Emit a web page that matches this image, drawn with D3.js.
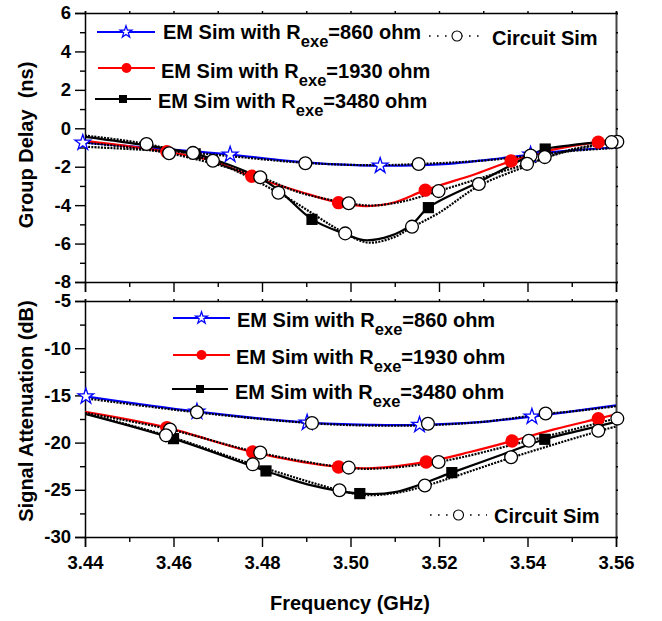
<!DOCTYPE html>
<html>
<head>
<meta charset="utf-8">
<script src="https://cdn.jsdelivr.net/npm/d3@7"></script>
<style>
  html, body { margin: 0; padding: 0; background: #fff; }
  svg text { font-family: "Liberation Sans", Arial, sans-serif; font-weight: bold; fill: #000; }
</style>
</head>
<body>
<script>
// ---------- data ----------
const freqMajor = [3.44, 3.46, 3.48, 3.50, 3.52, 3.54, 3.56];
const freqMinor = [3.45, 3.47, 3.49, 3.51, 3.53, 3.55];
const freqLabels = ["3.44", "3.46", "3.48", "3.50", "3.52", "3.54", "3.56"];

const gdMajor = [6, 4, 2, 0, -2, -4, -6, -8];
const gdMinor = [5, 3, 1, -1, -3, -5, -7];
const gdLabels = ["6", "4", "2", "0", "-2", "-4", "-6", "-8"];

const attMajor = [-5, -10, -15, -20, -25, -30];
const attMinor = [-7.5, -12.5, -17.5, -22.5, -27.5];
const attLabels = ["-5", "-10", "-15", "-20", "-25", "-30"];

const seriesNames = ["EM Sim with R", "EM Sim with R", "EM Sim with R"];
const seriesSub = ["exe", "exe", "exe"];
const seriesTail = ["=860 ohm", "=1930 ohm", "=3480 ohm"];
const circuitName = "Circuit Sim";

// Group delay (ns) vs frequency (GHz)
const gdEm860 = [[3.44,-0.75],[3.455,-1.03],[3.4728,-1.37],[3.4852,-1.68],[3.497,-1.88],[3.507,-1.95],[3.52,-1.88],[3.534,-1.56],[3.5414,-1.35],[3.55,-1.15],[3.56,-1.0]];
const gdEm860Marks = [[3.4395,-0.75],[3.4728,-1.37],[3.5067,-1.95],[3.5407,-1.37]];
const gdCkt860 = [[3.44,-0.96],[3.4644,-1.28],[3.4898,-1.8],[3.505,-1.92],[3.5154,-1.86],[3.53,-1.68],[3.5407,-1.42],[3.55,-1.18],[3.56,-1.02]];
const gdCkt860Marks = [[3.4644,-1.28],[3.4898,-1.82],[3.5154,-1.86],[3.5407,-1.42]];

const gdEm1930 = [[3.44,-0.65],[3.4585,-1.22],[3.4687,-1.69],[3.4777,-2.5],[3.4886,-3.3],[3.4973,-3.87],[3.5037,-4.05],[3.51,-3.85],[3.5169,-3.22],[3.5286,-2.35],[3.5363,-1.7],[3.546,-1.1],[3.556,-0.72],[3.56,-0.63]];
const gdEm1930Marks = [[3.4585,-1.22],[3.4777,-2.5],[3.4973,-3.87],[3.5169,-3.22],[3.5363,-1.7],[3.556,-0.72]];
const gdCkt1930 = [[3.44,-0.75],[3.459,-1.3],[3.4796,-2.55],[3.4886,-3.35],[3.4996,-3.9],[3.505,-4.02],[3.512,-3.8],[3.5199,-3.27],[3.53,-2.55],[3.5399,-1.85],[3.55,-1.1],[3.56,-0.7]];
const gdCkt1930Marks = [[3.459,-1.3],[3.4796,-2.55],[3.4996,-3.9],[3.5199,-3.27],[3.5399,-1.85],[3.5603,-0.7]];

const gdEm3480 = [[3.44,-0.45],[3.454,-0.9],[3.4649,-1.33],[3.4725,-1.9],[3.4792,-2.55],[3.4837,-3.2],[3.4913,-4.74],[3.4988,-5.5],[3.503,-5.82],[3.509,-5.6],[3.5139,-5.0],[3.5176,-4.13],[3.529,-2.8],[3.5399,-1.5],[3.544,-1.08],[3.55,-0.88],[3.56,-0.62]];
const gdEm3480Marks = [[3.4649,-1.33],[3.4913,-4.74],[3.5176,-4.13],[3.544,-1.08]];
const gdCkt3480 = [[3.44,-0.38],[3.4539,-0.82],[3.4689,-1.72],[3.4837,-3.35],[3.4988,-5.47],[3.504,-5.95],[3.5095,-5.7],[3.5139,-5.15],[3.52,-4.4],[3.529,-3.0],[3.5399,-1.95],[3.5439,-1.55],[3.55,-1.15],[3.559,-0.75],[3.56,-0.72]];
const gdCkt3480Marks = [[3.4539,-0.82],[3.4689,-1.69],[3.4837,-3.35],[3.4988,-5.47],[3.5139,-5.12],[3.529,-2.9],[3.5439,-1.5],[3.559,-0.72]];

// Signal attenuation (dB) vs frequency (GHz)
const atEm860 = [[3.44,-15.1],[3.4653,-16.72],[3.4902,-17.88],[3.505,-18.12],[3.5156,-18.12],[3.53,-17.8],[3.541,-17.25],[3.55,-16.7],[3.56,-16.05]];
const atEm860Marks = [[3.4402,-15.1],[3.4653,-16.72],[3.4902,-17.88],[3.5156,-18.12],[3.541,-17.25]];
const atCkt860 = [[3.44,-15.3],[3.4653,-16.8],[3.4913,-17.95],[3.505,-18.2],[3.5175,-18.15],[3.53,-17.8],[3.5441,-16.95],[3.55,-16.7],[3.56,-16.15]];
const atCkt860Marks = [[3.4653,-16.78],[3.4913,-17.93],[3.5175,-18.0],[3.5441,-16.92]];

const atEm1930 = [[3.44,-16.75],[3.4585,-18.41],[3.4779,-21.0],[3.4973,-22.58],[3.505,-22.7],[3.5171,-22.05],[3.527,-21.0],[3.5365,-19.83],[3.546,-18.6],[3.556,-17.46],[3.56,-17.0]];
const atEm1930Marks = [[3.4585,-18.41],[3.4779,-21.0],[3.4973,-22.58],[3.5171,-22.05],[3.5365,-19.83],[3.556,-17.46]];
const atCkt1930 = [[3.44,-16.85],[3.4592,-18.6],[3.4796,-21.1],[3.4996,-22.68],[3.506,-22.75],[3.5199,-22.05],[3.5403,-19.8],[3.5603,-17.4]];
const atCkt1930Marks = [[3.4592,-18.62],[3.4796,-21.06],[3.4996,-22.65],[3.5199,-22.05],[3.5403,-19.8],[3.5603,-17.46]];

const atEm3480 = [[3.44,-16.95],[3.46,-19.58],[3.4809,-23.0],[3.4905,-24.45],[3.5021,-25.4],[3.51,-25.25],[3.5229,-23.18],[3.5335,-21.4],[3.5439,-19.65],[3.552,-18.7],[3.56,-17.8]];
const atEm3480Marks = [[3.46,-19.58],[3.4809,-23.0],[3.5021,-25.4],[3.5229,-23.18],[3.5439,-19.65]];
const atCkt3480 = [[3.44,-16.9],[3.4583,-19.23],[3.4779,-22.3],[3.4975,-25.05],[3.503,-25.55],[3.51,-25.35],[3.5168,-24.6],[3.5363,-21.6],[3.556,-18.8],[3.56,-18.3]];
const atCkt3480Marks = [[3.4583,-19.23],[3.4779,-22.3],[3.4975,-25.05],[3.5168,-24.55],[3.5363,-21.55],[3.556,-18.75]];

// ---------- layout ----------
const W = 662, H = 621;
const left = 85, right = 616;
const topPanel = { y0: 13, y1: 282 };
const botPanel = { y0: 301, y1: 537 };

const svg = d3.select("body").append("svg")
  .attr("width", W).attr("height", H)
  .attr("viewBox", `0 0 ${W} ${H}`);

svg.append("rect").attr("width", W).attr("height", H).attr("fill", "#fff");

const x = d3.scaleLinear().domain([3.44, 3.56]).range([left, right]);
const yTop = d3.scaleLinear().domain([-8, 6]).range([topPanel.y1, topPanel.y0]);
const yBot = d3.scaleLinear().domain([-30, -5]).range([botPanel.y1, botPanel.y0]);

const BLUE = "#0000ff", RED = "#ff0000", BLACK = "#000";

const defs = svg.append("defs");
defs.append("clipPath").attr("id", "clipTop").append("rect")
  .attr("x", left).attr("y", topPanel.y0).attr("width", right - left).attr("height", topPanel.y1 - topPanel.y0);
defs.append("clipPath").attr("id", "clipBot").append("rect")
  .attr("x", left).attr("y", botPanel.y0).attr("width", right - left).attr("height", botPanel.y1 - botPanel.y0);

function styleAxis(g) {
  g.select(".domain").attr("stroke", "#000").attr("stroke-width", 1.5);
  g.selectAll(".tick line").attr("stroke", "#000").attr("stroke-width", 1.4);
  g.selectAll(".tick text").attr("font-size", 18.5)
    .style("font-family", '"Liberation Sans", Arial, sans-serif').style("font-weight", "bold");
}

function drawFrame(yScale, panel, major, minor, labels, showXLabels) {
  // left axis
  const gl = svg.append("g").attr("transform", `translate(${left},0)`)
    .call(d3.axisLeft(yScale).tickValues(major).tickSize(10).tickPadding(4)
      .tickFormat((d, i) => labels[i]));
  styleAxis(gl);
  const glm = svg.append("g").attr("transform", `translate(${left},0)`)
    .call(d3.axisLeft(yScale).tickValues(minor).tickSize(5).tickFormat(""));
  styleAxis(glm); glm.select(".domain").remove();

  // right axis: tiny outward ticks
  const gr = svg.append("g").attr("transform", `translate(${right},0)`)
    .call(d3.axisRight(yScale).tickValues(major.concat(minor)).tickSize(2).tickFormat(""));
  styleAxis(gr);
  gr.select(".domain").attr("stroke", "#444").attr("stroke-width", 2);

  // top axis: tiny outward ticks
  const gt = svg.append("g").attr("transform", `translate(0,${panel.y0})`)
    .call(d3.axisTop(x).tickValues(freqMajor.concat(freqMinor)).tickSize(2).tickFormat(""));
  styleAxis(gt);

  // bottom axis
  const gb = svg.append("g").attr("transform", `translate(0,${panel.y1})`)
    .call(d3.axisBottom(x).tickValues(freqMajor).tickSize(10).tickPadding(9)
      .tickFormat((d, i) => showXLabels ? freqLabels[i] : ""));
  styleAxis(gb);
  const gbm = svg.append("g").attr("transform", `translate(0,${panel.y1})`)
    .call(d3.axisBottom(x).tickValues(freqMinor).tickSize(5).tickFormat(""));
  styleAxis(gbm); gbm.select(".domain").remove();
}

drawFrame(yTop, topPanel, gdMajor, gdMinor, gdLabels, false);
drawFrame(yBot, botPanel, attMajor, attMinor, attLabels, true);

// ---------- marks ----------
const starSize = 8.2 * 8.2 / 0.8908130915292852;

function marker(g, type, color, px, py) {
  if (type === "star") {
    g.append("path").attr("d", d3.symbol(d3.symbolStar, starSize)())
      .attr("transform", `translate(${px},${py})`)
      .attr("fill", "#fff").attr("stroke", color).attr("stroke-width", 1.3);
  } else if (type === "dot") {
    g.append("circle").attr("cx", px).attr("cy", py).attr("r", 6.7).attr("fill", color);
  } else if (type === "square") {
    g.append("rect").attr("x", px - 5.6).attr("y", py - 5.6).attr("width", 11.2).attr("height", 11.2).attr("fill", color);
  } else if (type === "open") {
    g.append("circle").attr("cx", px).attr("cy", py).attr("r", 6.4)
      .attr("fill", "#fff").attr("stroke", "#000").attr("stroke-width", 1.3);
  }
}

function drawPanel(yScale, clipId, em, ckt) {
  const line = d3.line().x(d => x(d[0])).y(d => yScale(d[1])).curve(d3.curveCatmullRom.alpha(0.5));
  const lines = svg.append("g").attr("clip-path", `url(#${clipId})`);
  em.forEach(s => {
    lines.append("path").attr("d", line(s.pts)).attr("fill", "none")
      .attr("stroke", s.color).attr("stroke-width", 2.2);
  });
  ckt.forEach(s => {
    lines.append("path").attr("d", line(s.pts)).attr("fill", "none")
      .attr("stroke", "#000").attr("stroke-width", 2.2).attr("stroke-dasharray", "2,1.2");
  });
  const marks = svg.append("g");
  em.forEach(s => s.marks.forEach(d => marker(marks, s.type, s.color, x(d[0]), yScale(d[1]))));
  ckt.forEach(s => s.marks.forEach(d => marker(marks, "open", "#000", x(d[0]), yScale(d[1]))));
}

drawPanel(yTop, "clipTop",
  [
    { pts: gdEm860, marks: gdEm860Marks, color: BLUE, type: "star" },
    { pts: gdEm1930, marks: gdEm1930Marks, color: RED, type: "dot" },
    { pts: gdEm3480, marks: gdEm3480Marks, color: BLACK, type: "square" }
  ],
  [
    { pts: gdCkt860, marks: gdCkt860Marks },
    { pts: gdCkt1930, marks: gdCkt1930Marks },
    { pts: gdCkt3480, marks: gdCkt3480Marks }
  ]);

drawPanel(yBot, "clipBot",
  [
    { pts: atEm860, marks: atEm860Marks, color: BLUE, type: "star" },
    { pts: atEm1930, marks: atEm1930Marks, color: RED, type: "dot" },
    { pts: atEm3480, marks: atEm3480Marks, color: BLACK, type: "square" }
  ],
  [
    { pts: atCkt860, marks: atCkt860Marks },
    { pts: atCkt1930, marks: atCkt1930Marks },
    { pts: atCkt3480, marks: atCkt3480Marks }
  ]);

// ---------- legends ----------
const legendTypes = ["star", "dot", "square"];
const legendColors = [BLUE, RED, BLACK];

function legendMarker(g, type, color, px, py) {
  if (type === "star") {
    g.append("path").attr("d", d3.symbol(d3.symbolStar, 6.3 * 6.3 / 0.8908130915292852)())
      .attr("transform", `translate(${px},${py})`)
      .attr("fill", "#fff").attr("stroke", color).attr("stroke-width", 1.2);
  } else if (type === "dot") {
    g.append("circle").attr("cx", px).attr("cy", py).attr("r", 5).attr("fill", color);
  } else if (type === "square") {
    g.append("rect").attr("x", px - 4).attr("y", py - 4).attr("width", 8).attr("height", 8).attr("fill", color);
  } else {
    g.append("circle").attr("cx", px).attr("cy", py).attr("r", 5)
      .attr("fill", "#fff").attr("stroke", "#000").attr("stroke-width", 1.1);
  }
}

function legendEntry(i, lx0, lx1, ly, tx, tb) {
  const g = svg.append("g");
  g.append("line").attr("x1", lx0).attr("x2", lx1).attr("y1", ly).attr("y2", ly)
    .attr("stroke", legendColors[i]).attr("stroke-width", 2.2);
  legendMarker(g, legendTypes[i], legendColors[i], (lx0 + lx1) / 2, ly);
  const t = g.append("text").attr("x", tx).attr("y", tb).attr("font-size", 20);
  t.append("tspan").text(seriesNames[i]);
  t.append("tspan").attr("dy", 8).attr("font-size", 16.5).text(seriesSub[i]);
  t.append("tspan").attr("dy", -8).text(seriesTail[i]);
}

function circuitEntry(lx0, lx1, ly, tx, tb) {
  const g = svg.append("g");
  g.append("line").attr("x1", lx0).attr("x2", lx1).attr("y1", ly).attr("y2", ly)
    .attr("stroke", "#000").attr("stroke-width", 1.6).attr("stroke-dasharray", "1.6,6.4");
  legendMarker(g, "open", "#000", (lx0 + lx1) / 2, ly);
  g.append("text").attr("x", tx).attr("y", tb).attr("font-size", 20).text(circuitName);
}

// group delay legend
legendEntry(0, 97, 155, 32, 163, 39);
legendEntry(1, 98, 155, 68, 161, 78);
legendEntry(2, 95, 151, 99, 158, 108);
circuitEntry(429, 485, 36, 492, 45);

// attenuation legend
legendEntry(0, 173, 230, 318, 237, 327);
legendEntry(1, 173, 230, 355, 236, 364);
legendEntry(2, 172, 228, 389, 235, 399);
circuitEntry(430, 487, 515, 494, 523);

// ---------- axis titles ----------
svg.append("text").attr("transform", "translate(33,145) rotate(-90)")
  .attr("text-anchor", "middle").attr("font-size", 20).text("Group Delay  (ns)")
  .style("white-space", "pre");
svg.append("text").attr("transform", "translate(33,411) rotate(-90)")
  .attr("text-anchor", "middle").attr("font-size", 20).text("Signal Attenuation (dB)");
svg.append("text").attr("x", 350).attr("y", 610)
  .attr("text-anchor", "middle").attr("font-size", 20).text("Frequency (GHz)");
</script>
</body>
</html>
